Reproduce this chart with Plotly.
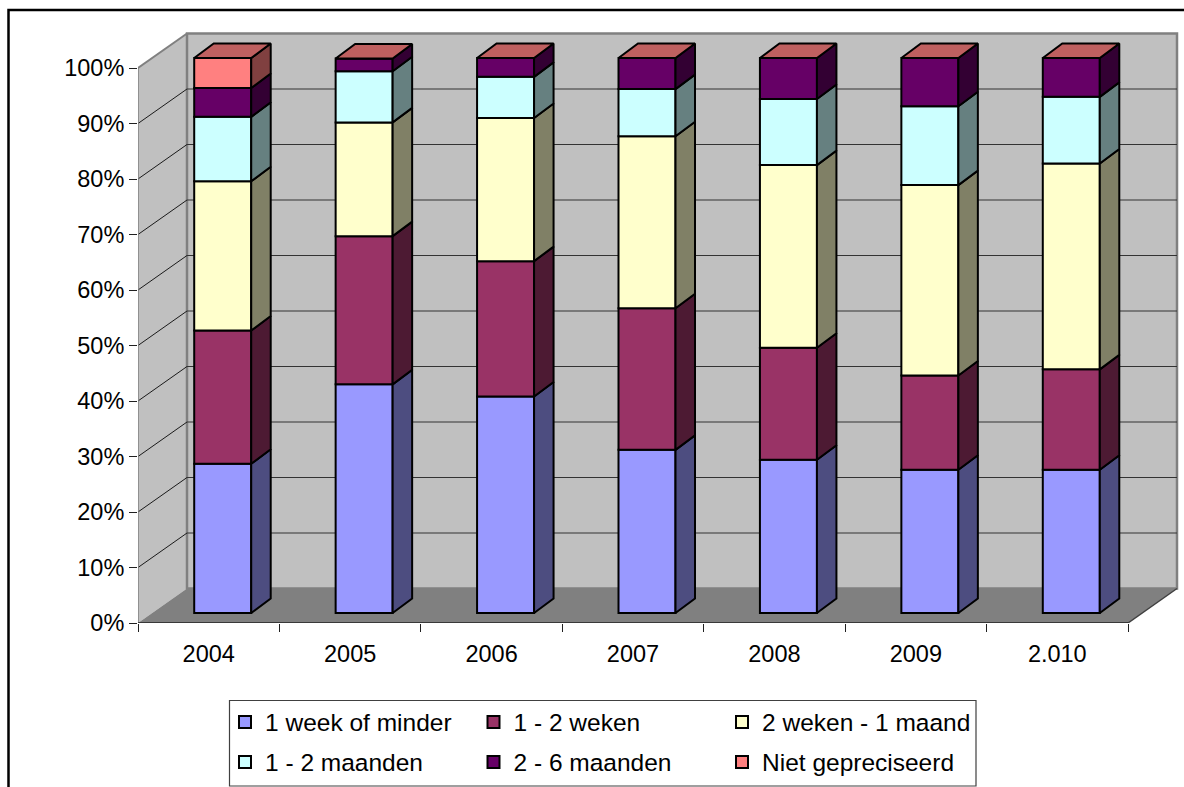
import plotly.graph_objects as go

categories = ["2004", "2005", "2006", "2007", "2008", "2009", "2.010"]
week_or_less = [26.9, 41.2, 39.0, 29.4, 27.6, 25.8, 25.8]
one_two_weeks = [24.0, 26.7, 24.4, 25.5, 20.2, 17.0, 18.1]
two_weeks_month = [26.9, 20.5, 25.8, 31.0, 32.9, 34.3, 37.1]
one_two_months = [11.6, 9.2, 7.4, 8.5, 11.9, 14.2, 12.0]
two_six_months = [5.2, 2.3, 3.4, 5.6, 7.4, 8.7, 7.0]
not_specified = [5.4, 0, 0, 0, 0, 0, 0]
y_ticks = [0, 10, 20, 30, 40, 50, 60, 70, 80, 90, 100]

series = [
    ("1 week of minder", week_or_less, "#9999FF", "#4D4D80", "legend"),
    ("1 - 2 weken", one_two_weeks, "#993366", "#4D1A33", "legend"),
    ("2 weken - 1 maand", two_weeks_month, "#FFFFCC", "#808066", "legend"),
    ("1 - 2 maanden", one_two_months, "#CCFFFF", "#668080", "legend2"),
    ("2 - 6 maanden", two_six_months, "#660066", "#330033", "legend2"),
    ("Niet gepreciseerd", not_specified, "#FF8080", "#804040", "legend2"),
]

W, H = 1184, 787
L, R, T, B = 138, 1180, 31, 623       # plot box in page pixels
CAT_PX = 990 / 7                      # pixels per category
PCT_PX = 5.55                         # pixels per percent
FONT = "Liberation Sans, Arial, sans-serif"

DX, DY = 49 / CAT_PX, 34.5 / PCT_PX   # wall depth
FX, FY = 14 / CAT_PX, 10 / PCT_PX     # bar front offset
BX, BY = 19.5 / CAT_PX, 14.5 / PCT_PX # bar depth
BAR_W = 57 / CAT_PX
n = len(categories)
WALL = "#C0C0C0"
EDGE = "#808080"


def px(x):
    return (x - L) / (R - L)


def py(y):
    return (B - y) / (B - T)


fig = go.Figure()

# front faces, side faces
lower = [0.0] * n
for name, vals, col, dark, leg in series:
    fig.add_trace(go.Bar(
        x=[i + 0.5 + FX for i in range(n)], y=vals,
        base=[lo + FY for lo in lower], width=BAR_W, name=name,
        marker=dict(color=col, line=dict(color="black", width=2)),
        legend=leg, hoverinfo="skip"))
    sx, sy = [], []
    for i in range(n):
        if vals[i] <= 0:
            continue
        xr = i + 0.5 + FX + BAR_W / 2
        y0 = lower[i] + FY
        y1 = y0 + vals[i]
        sx += [xr, xr + BX, xr + BX, xr, xr, None]
        sy += [y0, y0 + BY, y1 + BY, y1, y0, None]
    fig.add_trace(go.Scatter(
        x=sx, y=sy, mode="lines", fill="toself", fillcolor=dark,
        line=dict(color="black", width=2), showlegend=False,
        hoverinfo="skip", cliponaxis=False))
    lower = [a + b for a, b in zip(lower, vals)]

# top faces
tx, ty = [], []
for i in range(n):
    xl = i + 0.5 + FX - BAR_W / 2
    xr = xl + BAR_W
    y0 = lower[i] + FY
    tx += [xl, xr, xr + BX, xl + BX, xl, None]
    ty += [y0, y0, y0 + BY, y0 + BY, y0, None]
fig.add_trace(go.Scatter(
    x=tx, y=ty, mode="lines", fill="toself", fillcolor="#BF6060",
    line=dict(color="black", width=2), showlegend=False,
    hoverinfo="skip", cliponaxis=False))

# front edges of the chart box
fig.add_trace(go.Scatter(
    x=[0, 0], y=[0, 100], mode="lines", line=dict(color=EDGE, width=1.5),
    showlegend=False, hoverinfo="skip", cliponaxis=False))
fig.add_trace(go.Scatter(
    x=[0, DX], y=[100, 100 + DY], mode="lines", line=dict(color=EDGE, width=2),
    showlegend=False, hoverinfo="skip", cliponaxis=False))
fig.add_trace(go.Scatter(
    x=[n, n + DX], y=[0, DY], mode="lines", line=dict(color="#404040", width=1.5),
    showlegend=False, hoverinfo="skip", cliponaxis=False))
fig.add_trace(go.Scatter(
    x=[0, n], y=[0, 0], mode="lines", line=dict(color="#202020", width=1.5),
    showlegend=False, hoverinfo="skip", cliponaxis=False))

shapes = [
    # left wall
    dict(type="path", xref="x", yref="y", layer="below",
         path=f"M0,0 L{DX},{DY} L{DX},{100 + DY} L0,100 Z",
         fillcolor=WALL, line=dict(width=0)),
    # back wall
    dict(type="rect", xref="x", yref="y", layer="below",
         x0=DX, x1=n + DX, y0=DY, y1=100 + DY,
         fillcolor=WALL, line=dict(color=EDGE, width=2.5)),
    # floor
    dict(type="path", xref="x", yref="y", layer="below",
         path=f"M0,0 L{DX},{DY} L{n + DX},{DY} L{n},0 Z",
         fillcolor=EDGE, line=dict(width=0)),
    # outer frame
    dict(type="path", xref="paper", yref="paper", layer="below",
         path=f"M{px(8.5)},{py(H + 10)} L{px(8.5)},{py(10)} L{px(W + 10)},{py(10)}",
         line=dict(color="black", width=2.5)),
    # legend box
    dict(type="rect", xref="paper", yref="paper", layer="below",
         x0=px(229.5), x1=px(976), y0=py(786), y1=py(700.5),
         fillcolor="white", line=dict(color="#404040", width=1.2)),
]
for t in y_ticks[1:-1]:
    shapes.append(dict(type="line", xref="x", yref="y", layer="below",
                       x0=0, x1=DX, y0=t, y1=t + DY,
                       line=dict(color="#1a1a1a", width=1)))
    shapes.append(dict(type="line", xref="x", yref="y", layer="below",
                       x0=DX, x1=n + DX, y0=t + DY, y1=t + DY,
                       line=dict(color="#333333", width=1)))

legend_common = dict(
    orientation="h", xanchor="left", yanchor="middle",
    x=px(225), bgcolor="rgba(0,0,0,0)", borderwidth=0,
    font=dict(family=FONT, size=24.5, color="black"),
    entrywidth=203.5, entrywidthmode="pixels", itemclick=False, itemdoubleclick=False,
    traceorder="normal")

fig.update_layout(
    width=W, height=H,
    barmode="overlay",
    paper_bgcolor="white",
    plot_bgcolor="rgba(0,0,0,0)",
    margin=dict(l=L, r=W - R, t=T, b=H - B, pad=0, autoexpand=False),
    font=dict(family=FONT, size=23.5, color="black"),
    shapes=shapes,
    legend=dict(legend_common, y=py(722)),
    legend2=dict(legend_common, y=py(762)),
    xaxis=dict(
        range=[0, (R - L) / CAT_PX], showgrid=False, zeroline=False, showline=False,
        tickmode="array", tickvals=[i + 0.5 for i in range(n)], ticktext=categories,
        ticks="", ticklabelstandoff=14,
        minor=dict(tickmode="array", tickvals=list(range(n + 1)), ticks="outside",
                   ticklen=8, tickwidth=1, tickcolor="#202020", showgrid=False),
    ),
    yaxis=dict(
        range=[0, (B - T) / PCT_PX], showgrid=False, zeroline=False, showline=False,
        tickmode="array", tickvals=y_ticks, ticktext=[f"{t}%" for t in y_ticks],
        ticks="outside", ticklen=8, tickwidth=1, tickcolor="#202020",
        ticklabelstandoff=0,
    ),
)

fig.write_html(
    "out.html",
    config={"displayModeBar": False},
    post_script="document.body.style.margin='0';document.documentElement.style.overflow='hidden';",
)
